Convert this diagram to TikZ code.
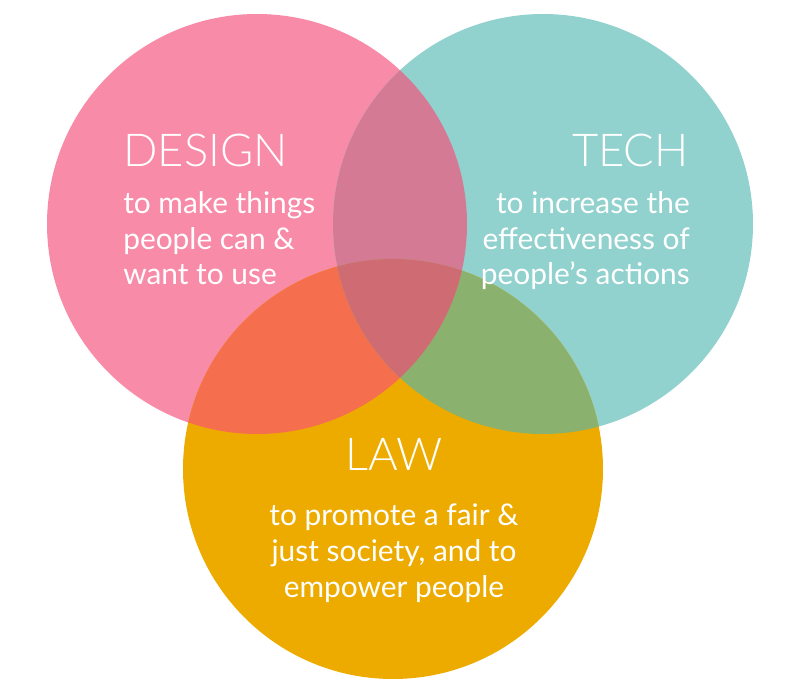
\documentclass[tikz,border=0pt]{standalone}
\usepackage{fontspec}
\setmainfont{Lato}
\newfontfamily\headfont{Lato Light}
\usepackage{tikz}
\definecolor{designpink}{HTML}{F88BA8}
\definecolor{techteal}{HTML}{91D1CE}
\definecolor{lawgold}{HTML}{EDAB00}
\definecolor{designtech}{HTML}{D57A95}
\definecolor{designlaw}{HTML}{F56E4E}
\definecolor{techlaw}{HTML}{8AB26E}
\definecolor{allthree}{HTML}{CF6C73}
\tikzset{
	head/.style={text=white, inner sep=0pt, font=\headfont\fontsize{34}{34}\selectfont},
	body/.style={text=white, inner sep=0pt, font=\fontsize{22.4}{27}\selectfont}
}

\begin{document}
\begin{tikzpicture}[x=0.75pt, y=-0.75pt]
		%%%%% START %%%%%
		\useasboundingbox (0, 0) rectangle (794, 699);
		
		\fill[designpink] (257, 224) circle (210);
		\fill[techteal] (543, 224) circle (210);
		\fill[lawgold] (393, 469) circle (210);
		
		% two at a time
		\begin{scope}
			\clip (257, 224) circle (210);
			\fill[designtech] (543, 224) circle (210);
			\fill[designlaw] (393, 469) circle (210);
		\end{scope}
		\begin{scope}
			\clip (543, 224) circle (210);
			\fill[techlaw] (393, 469) circle (210);
		\end{scope}
		
		% all three
		\begin{scope}
			\clip (257, 224) circle (210);
			\clip (543, 224) circle (210);
			\fill[allthree] (393, 469) circle (210);
		\end{scope}
		
		% base of a text block is its last line
		\node[head, anchor=base west] (design) at (123, 167) {DESIGN};
		\node[body, anchor=base west, align=left] (designtext) at (123, 285) {to make things\\people can \&\\want to use};
		
		\node[head, anchor=base east] (tech) at (689, 167) {TECH};
		\node[body, anchor=base east, align=right] (techtext) at (690, 285) {to increase the\\effectiveness of\\people’s actions};
		
		\node[head, anchor=base] (law) at (394, 470) {LAW};
		\node[body, anchor=base, align=center] (lawtext) at (394, 597) {to promote a fair \&\\just society, and to\\empower people};
		
		%%%%% END %%%%%
	\end{tikzpicture}
\end{document}
